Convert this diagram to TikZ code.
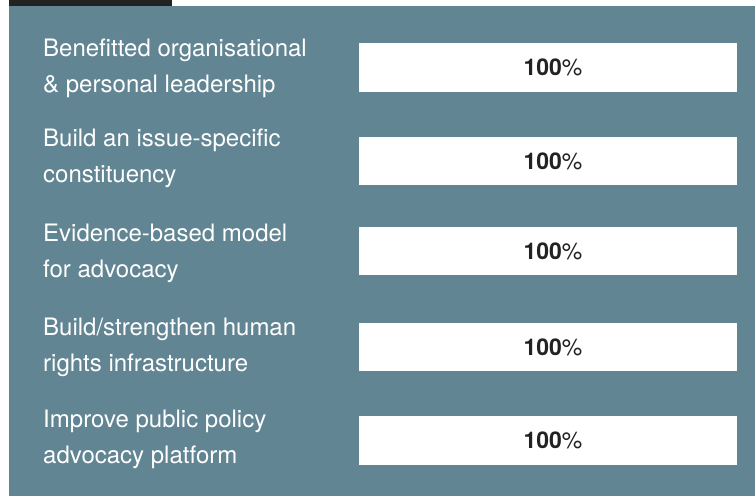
\documentclass[tikz,border=0pt]{standalone}
\usepackage{fontspec}
\setmainfont{TeX Gyre Heros}
\definecolor{panelgrey}{HTML}{628593}
\definecolor{tabdark}{HTML}{222222}
\definecolor{numdark}{HTML}{222222}
\tikzset{
  rowlabel/.style={anchor=base west, inner sep=0pt, align=left, text=white,
    font=\fontsize{24bp}{36bp}\selectfont},
  scorebox/.style={fill=white, minimum width=378bp, minimum height=48.5bp,
    inner sep=0pt, text=numdark, font=\fontsize{23bp}{26bp}\selectfont}
}
\begin{document}
\begin{tikzpicture}[x=1bp, y=-1bp]
  \useasboundingbox (0,0) rectangle (755,496);
  \fill[tabdark] (9,0) rectangle (172,6);
  \fill[panelgrey] (9,6) rectangle (755,496);
  % labels
  \node[rowlabel] (lead) at (43,93) {Benefitted organisational\\\& personal leadership};
  \node[rowlabel] (const) at (43,183) {Build an issue-specific\\constituency};
  \node[rowlabel] (evid) at (43,278) {Evidence-based model\\for advocacy};
  \node[rowlabel] (infra) at (43,371) {Build/strengthen human\\rights infrastructure};
  \node[rowlabel] (policy) at (43,463) {Improve public policy\\advocacy platform};
  % score boxes
  \node[scorebox] (leadbox) at (548,67.5) {\hspace*{10bp}\textbf{100}\%};
  \node[scorebox] (constbox) at (548,161) {\hspace*{10bp}\textbf{100}\%};
  \node[scorebox] (evidbox) at (548,251) {\hspace*{10bp}\textbf{100}\%};
  \node[scorebox] (infrabox) at (548,347) {\hspace*{10bp}\textbf{100}\%};
  \node[scorebox] (policybox) at (548,440.5) {\hspace*{10bp}\textbf{100}\%};
\end{tikzpicture}
\end{document}
